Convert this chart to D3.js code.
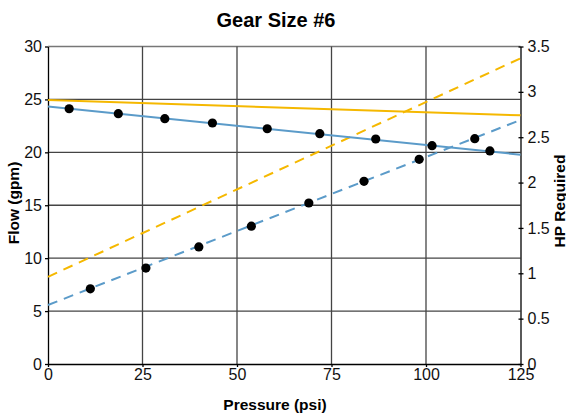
<!DOCTYPE html>
<html><head><meta charset="utf-8">
<script src="https://cdn.jsdelivr.net/npm/d3@7"></script>
<style>body{margin:0;background:#fff}svg{display:block;font-family:"Liberation Sans",Arial,sans-serif}</style>
</head><body><svg id="c" width="566" height="415"></svg>
<script>
const title = "Gear Size #6";
const xLabel = "Pressure (psi)";
const yLabel = "Flow (gpm)";
const y2Label = "HP Required";
const xTicks = [0, 25, 50, 75, 100, 125];
const yTicks = [0, 5, 10, 15, 20, 25, 30];
const y2Ticks = [0, 0.5, 1, 1.5, 2, 2.5, 3, 3.5];
// Flow measured points (pressure, gpm)
const flowPressure = [5.6, 18.6, 30.9, 43.5, 58.0, 71.9, 86.7, 101.6, 116.9];
const flowValues = [24.12, 23.65, 23.18, 22.77, 22.23, 21.76, 21.26, 20.63, 20.13];
// HP measured points (pressure, hp)
const hpPressure = [11.2, 25.9, 39.9, 53.8, 69.0, 83.6, 98.2, 112.9];
const hpValues = [0.829, 1.057, 1.291, 1.519, 1.775, 2.014, 2.256, 2.484];
// Trend lines (endpoints at pressure 0 and 125)
const lineX = [0, 125];
const flowTheory = [24.95, 23.5];
const flowFit = [24.34, 19.78];
const hpTheory = [0.961, 3.37];
const hpFit = [0.65, 2.69];

const svg = d3.select("#c");
const L = 48, R = 520.5, T = 46.5, B = 364;
const x = d3.scaleLinear().domain([0,125]).range([L,R]);
const y = d3.scaleLinear().domain([0,30]).range([B,T]);
const y2 = d3.scaleLinear().domain([0,3.5]).range([B,T]);
const orange = "#f5b800", blue = "#5b9bc9";

// grid
const g = svg.append("g");
g.selectAll(".hg").data(yTicks.filter(d=>d>0)).join("line")
  .attr("x1",L).attr("x2",R).attr("y1",d=>y(d)).attr("y2",d=>y(d))
  .attr("stroke",d=>d===30?"#777":"#444").attr("stroke-width",1.3);
g.selectAll(".vg").data(xTicks.filter(d=>d>0&&d<125)).join("line")
  .attr("y1",T).attr("y2",B).attr("x1",d=>x(d)).attr("x2",d=>x(d))
  .attr("stroke","#444").attr("stroke-width",1.3);

// axes
const fs = "16px";
const ax = svg.append("g").attr("transform",`translate(0,${B})`)
  .call(d3.axisBottom(x).tickValues(xTicks).tickSize(3).tickPadding(2).tickSizeOuter(0));
const ay = svg.append("g").attr("transform",`translate(${L},0)`)
  .call(d3.axisLeft(y).tickValues(yTicks).tickSize(3).tickPadding(3).tickSizeOuter(0));
const ay2 = svg.append("g").attr("transform",`translate(${R},0)`)
  .call(d3.axisRight(y2).tickValues(y2Ticks).tickFormat(d3.format("")).tickSize(3).tickPadding(4).tickSizeOuter(0));
ay2.selectAll(".tick line").attr("x1",-2);
[ax,ay,ay2].forEach(a=>{
  a.selectAll("text").attr("font-size",fs).attr("fill","#111").attr("font-family","'Liberation Sans',Arial,sans-serif");
  a.selectAll("line,path").attr("stroke","#000").attr("stroke-width",1.3);
});

// lines
const ln = d3.line().x(d=>x(d[0])).y(d=>d[2](d[1]));
function drawLine(vals, scale, color, dash){
  svg.append("path").datum(lineX.map((px,i)=>[px, vals[i], scale]))
    .attr("d",ln).attr("fill","none").attr("stroke",color).attr("stroke-width",2)
    .attr("stroke-dasharray",dash||null);
}
drawLine(hpTheory, y2, orange, "10,7");
drawLine(hpFit, y2, blue, "10,7");
drawLine(flowTheory, y, orange);
drawLine(flowFit, y, blue);

// points
svg.selectAll(".fp").data(flowPressure.map((p,i)=>[p,flowValues[i]])).join("circle")
  .attr("cx",d=>x(d[0])).attr("cy",d=>y(d[1])).attr("r",4.6).attr("fill","#000");
svg.selectAll(".hp").data(hpPressure.map((p,i)=>[p,hpValues[i]])).join("circle")
  .attr("cx",d=>x(d[0])).attr("cy",d=>y2(d[1])).attr("r",4.6).attr("fill","#000");

// titles
svg.append("text").attr("x",276).attr("y",27).attr("text-anchor","middle")
  .attr("font-size","20px").attr("font-weight","bold").text(title);
svg.append("text").attr("x",275).attr("y",410).attr("text-anchor","middle")
  .attr("font-size","15.5px").attr("font-weight","bold").text(xLabel);
svg.append("text").attr("transform","translate(19,203) rotate(-90)").attr("text-anchor","middle")
  .attr("font-size","15.5px").attr("font-weight","bold").text(yLabel);
svg.append("text").attr("transform","translate(565,201) rotate(-90)").attr("text-anchor","middle")
  .attr("font-size","15.5px").attr("font-weight","bold").text(y2Label);
</script></body></html>
